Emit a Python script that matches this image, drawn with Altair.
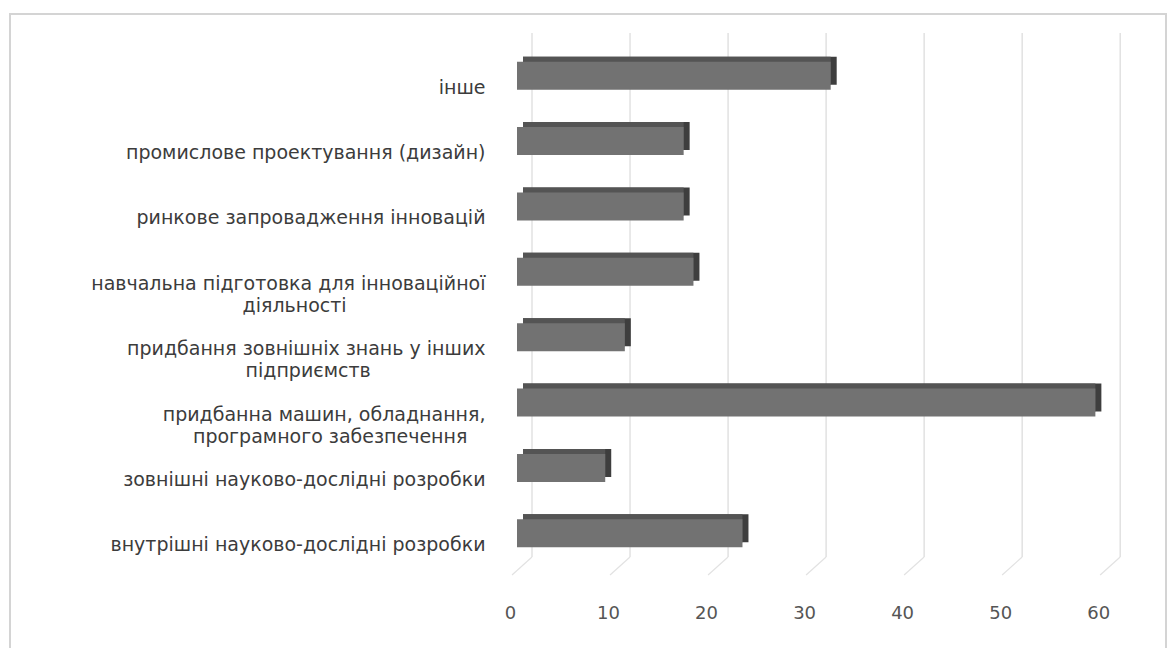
import altair as alt
import pandas as pd

# Innovation activity categories (top to bottom) and their values;
# "|" marks a line break in the axis label
categories = [
    "інше",
    "промислове проектування (дизайн)",
    "ринкове запровадження інновацій",
    "навчальна підготовка для інноваційної|діяльності",
    "придбання зовнішніх знань у інших|підприємств",
    "придбанна машин, обладнання,|програмного забезпечення",
    "зовнішні науково-дослідні розробки",
    "внутрішні науково-дослідні розробки",
]
values = [32, 17, 17, 18, 11, 59, 9, 23]
tick_values = [0, 10, 20, 30, 40, 50, 60]

bars = pd.DataFrame({"category": categories, "value": values})
ticks = pd.DataFrame({"tick": tick_values})

FONT = "DejaVu Sans"
x_scale = alt.Scale(domain=[0, 66], nice=False, zero=True)
y_scale = alt.Scale(domain=categories, paddingInner=0.57, paddingOuter=0.285)

# Two-line labels: trailing no-break spaces (closed by a zero-width space so
# they are not trimmed) keep the second line roughly centred under the first
# one while the whole block stays right-aligned.
label_expr = (
    "length(split(datum.label, '|')) > 1 ? "
    "[split(datum.label, '|')[0], "
    "pad(split(datum.label, '|')[1], length(split(datum.label, '|')[1]) + "
    "round((length(split(datum.label, '|')[0]) - length(split(datum.label, '|')[1])) * 0.86), "
    "'\u00a0') + '\u200b'] : datum.label"
)

# Outer chart frame
frame = alt.Chart(pd.DataFrame({"k": [0]})).mark_rect(
    fillOpacity=0, stroke="#d4d4d4", strokeWidth=2
).encode(
    x=alt.value(-507), x2=alt.value(649),
    y=alt.value(-29), y2=alt.value(640),
)

# Back-wall gridlines
wall = alt.Chart(ticks).mark_rule(color="#dadada", strokeWidth=1.2, xOffset=15).encode(
    x=alt.X("tick:Q", scale=x_scale),
    y=alt.value(-10), y2=alt.value(514),
)

# Floor lines running from the back wall toward the viewer
floor = alt.Chart(ticks).mark_rule(
    color="#e2e2e2", strokeWidth=1.2, xOffset=15, x2Offset=-5
).encode(
    x=alt.X("tick:Q", scale=x_scale),
    x2=alt.X2("tick:Q"),
    y=alt.value(514), y2=alt.value(532),
)

ybase = alt.Y(
    "category:N", scale=y_scale, sort=categories,
    axis=alt.Axis(
        title=None, domain=False, ticks=False, grid=False,
        labelExpr=label_expr,
        labelFont=FONT, labelFontSize=19, labelColor="#3c3c3c",
        labelPadding=32, labelOffset=12, labelLineHeight=22,
        labelLimit=500, zindex=1,
    ),
)
xbase = alt.X(
    "value:Q", scale=x_scale,
    axis=alt.Axis(
        title=None, domain=False, ticks=False, grid=False,
        values=tick_values, labelFont=FONT, labelFontSize=18,
        labelColor="#555555", labelPadding=38, labelOffset=-7,
        labelFlush=False, zindex=1,
    ),
)

# Right side face of each 3D bar
side = alt.Chart(bars).mark_bar(
    size=28, color="#3e3e3e", xOffset=6, x2Offset=6, yOffset=-5
).encode(x=xbase, x2=alt.datum(0), y=ybase)

# Top face of each 3D bar
top = alt.Chart(bars).mark_bar(
    size=28, color="#545454", xOffset=0, x2Offset=6, yOffset=-5
).encode(x=xbase, x2=alt.datum(0), y=ybase)

# Front face
front = alt.Chart(bars).mark_bar(size=28, color="#727272").encode(
    x=xbase, x2=alt.datum(0), y=ybase
)

chart = alt.layer(frame, wall, floor, side, top, front).properties(
    width=647, height=523,
    autosize=alt.AutoSizeParams(type="none"),
    padding={"left": 517, "top": 43, "right": 9, "bottom": 82},
    background="white",
).configure_view(stroke=None)

chart.save("out.html", embed_options={"renderer": "svg", "actions": False})
